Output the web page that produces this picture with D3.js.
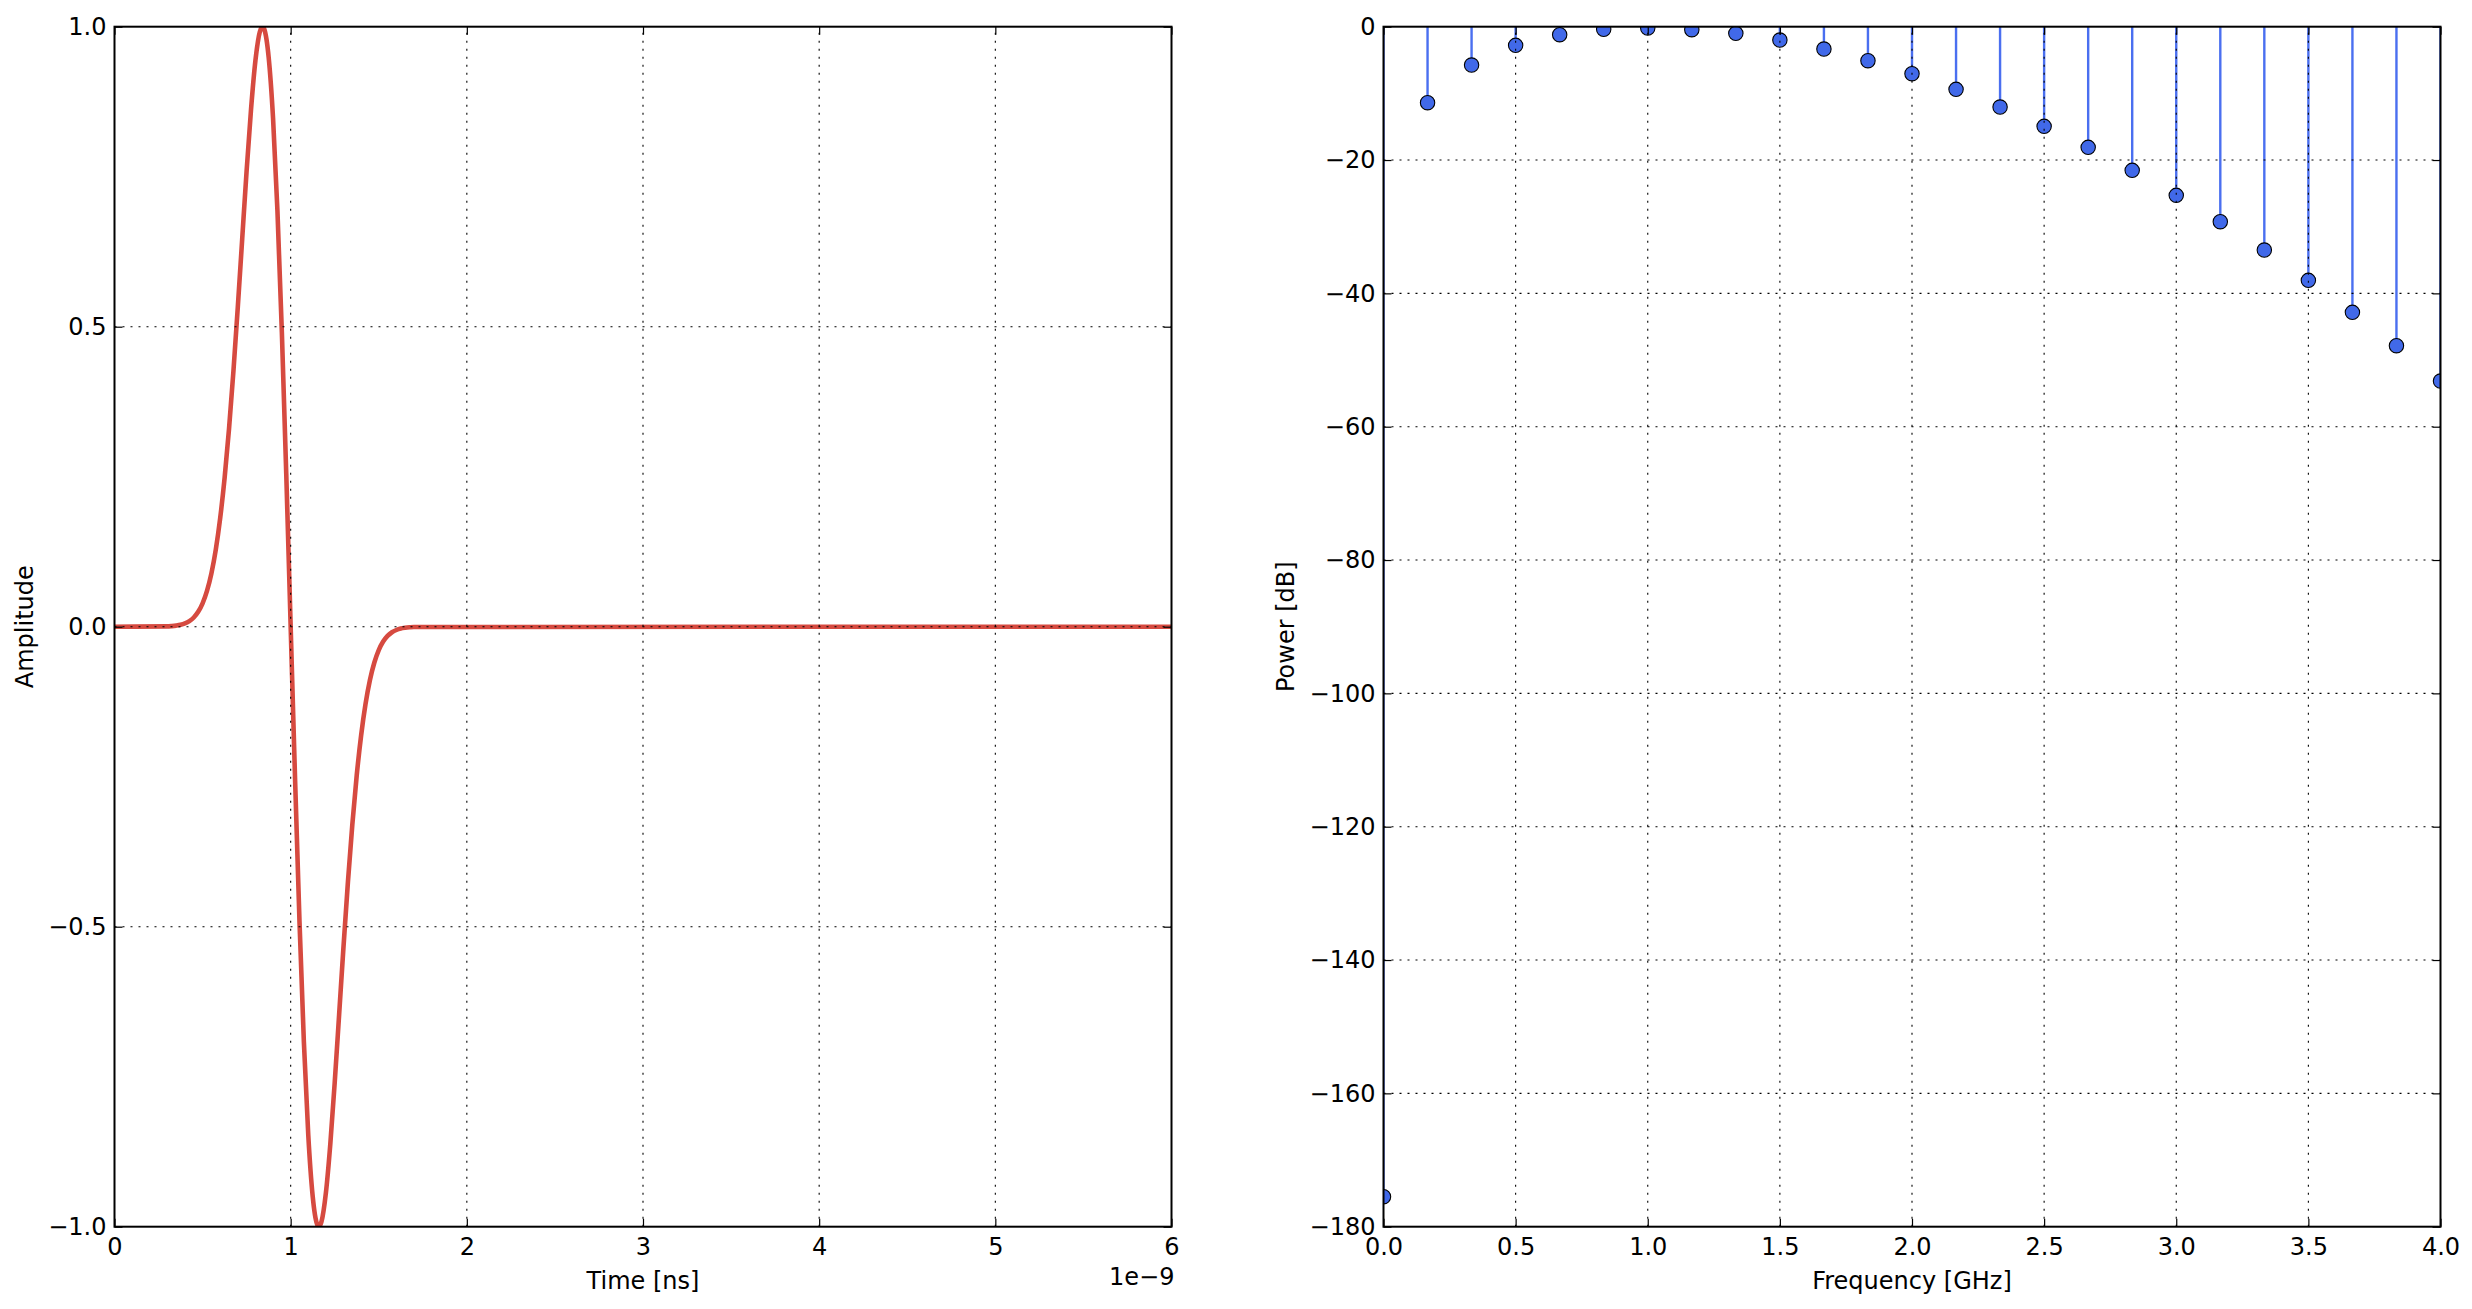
<!DOCTYPE html>
<html><head><meta charset="utf-8">
<script src="https://cdn.jsdelivr.net/npm/d3@7"></script>
<style>body{margin:0;background:#fff}svg{display:block}</style>
</head><body><svg id="c" width="2472" height="1309"></svg>
<script>
// ---- Left panel: pulse in time domain (time in ns, axis shown with 1e-9 offset) ----
const timeNs = [0, 0.300, 0.325, 0.350, 0.375, 0.400, 0.425, 0.450, 0.475, 0.500, 0.525, 0.550, 0.575, 0.600, 0.625, 0.650, 0.675, 0.700, 0.725, 0.750, 0.775, 0.800, 0.825, 0.840, 0.850, 0.875, 0.900, 0.925, 0.950, 0.975, 1.000, 1.025, 1.050, 1.075, 1.100, 1.125, 1.150, 1.160, 1.175, 1.200, 1.225, 1.250, 1.275, 1.300, 1.325, 1.350, 1.375, 1.400, 1.425, 1.450, 1.475, 1.500, 1.525, 1.550, 1.575, 1.600, 1.625, 1.650, 1.675, 1.700, 6.0];
const amplitude = [0, 0.0005, 0.001, 0.0018, 0.0031, 0.0055, 0.0093, 0.0154, 0.0248, 0.039, 0.0597, 0.0888, 0.1286, 0.1811, 0.2477, 0.3296, 0.4255, 0.533, 0.6469, 0.76, 0.8623, 0.9435, 0.9916, 1.0, 0.996, 0.9493, 0.8476, 0.6924, 0.4907, 0.2545, 0, -0.2545, -0.4907, -0.6924, -0.8476, -0.9493, -0.996, -1.0, -0.9916, -0.9435, -0.8623, -0.76, -0.6469, -0.533, -0.4255, -0.3296, -0.2477, -0.1811, -0.1286, -0.0888, -0.0597, -0.039, -0.0248, -0.0154, -0.0093, -0.0055, -0.0031, -0.0018, -0.001, -0.0005, 0];
const timeTicks = [0, 1, 2, 3, 4, 5, 6];
const ampTicks = [-1.0, -0.5, 0.0, 0.5, 1.0];

// ---- Right panel: spectrum stems ----
const freqGHz = [0, 0.1667, 0.3333, 0.5, 0.6667, 0.8333, 1.0, 1.1667, 1.3333, 1.5, 1.6667, 1.8333, 2.0, 2.1667, 2.3333, 2.5, 2.6667, 2.8333, 3.0, 3.1667, 3.3333, 3.5, 3.6667, 3.8333, 4.0];
const powerDb = [-175.5, -11.4, -5.75, -2.8, -1.2, -0.4, -0.2, -0.45, -1.0, -2.0, -3.35, -5.1, -7.05, -9.4, -12.05, -14.95, -18.1, -21.55, -25.3, -29.25, -33.5, -38.05, -42.85, -47.85, -53.15];
const freqTicks = [0, 0.5, 1.0, 1.5, 2.0, 2.5, 3.0, 3.5, 4.0];
const powerTicks = [-180, -160, -140, -120, -100, -80, -60, -40, -20, 0];

const FONT = "'DejaVu Sans', sans-serif";
const FS = 24;
const svg = d3.select('#c');
svg.append('rect').attr('width', 2472).attr('height', 1309).attr('fill', '#fff');

const TOP = 26.7, H = 1200, W = 1057;
const panels = [{x0: 114.5, id: 'L'}, {x0: 1383.5, id: 'R'}];

function setupPanel(p, xDom, yDom) {
  const g = svg.append('g').attr('transform', `translate(${p.x0},${TOP})`);
  const x = d3.scaleLinear().domain(xDom).range([0, W]);
  const y = d3.scaleLinear().domain(yDom).range([H, 0]);
  svg.append('clipPath').attr('id', 'clip' + p.id)
    .append('rect').attr('width', W).attr('height', H);
  return {g, x, y};
}

function finishPanel(P, xTicks, yTicks, xFmt, yFmt) {
  const {g, x, y} = P;
  // grid on top of data (classic style)
  const grid = g.append('g');
  grid.selectAll('.gx').data(xTicks.filter(t => t !== x.domain()[0] && t !== x.domain()[1]))
    .join('line').attr('x1', d => x(d)).attr('x2', d => x(d)).attr('y1', H).attr('y2', 0)
    .attr('stroke', '#000').attr('stroke-width', 1.1).attr('stroke-dasharray', '2,6');
  grid.selectAll('.gy').data(yTicks.filter(t => t !== y.domain()[0] && t !== y.domain()[1]))
    .join('line').attr('y1', d => y(d)).attr('y2', d => y(d)).attr('x1', 0).attr('x2', W)
    .attr('stroke', '#000').attr('stroke-width', 1.1).attr('stroke-dasharray', '2,6');

  const axB = g.append('g').attr('transform', `translate(0,${H})`)
    .call(d3.axisBottom(x).tickValues(xTicks).tickFormat(xFmt).tickSize(-8).tickSizeOuter(0).tickPadding(11));
  const axT = g.append('g')
    .call(d3.axisTop(x).tickValues(xTicks).tickFormat('').tickSize(-8).tickSizeOuter(0));
  const axL = g.append('g')
    .call(d3.axisLeft(y).tickValues(yTicks).tickFormat(yFmt).tickSize(-8).tickSizeOuter(0).tickPadding(8));
  const axR = g.append('g').attr('transform', `translate(${W},0)`)
    .call(d3.axisRight(y).tickValues(yTicks).tickFormat('').tickSize(-8).tickSizeOuter(0));
  [axB, axT, axL, axR].forEach(a => {
    a.select('.domain').remove();
    a.selectAll('line').attr('stroke', '#000').attr('stroke-width', 1.2);
    a.selectAll('text').attr('font-family', FONT).attr('font-size', FS).attr('fill', '#000');
  });
  g.append('rect').attr('width', W).attr('height', H)
    .attr('fill', 'none').attr('stroke', '#000').attr('stroke-width', 2);
}

// Left panel
const PL = setupPanel(panels[0], [0, 6], [-1, 1]);
const pts = timeNs.map((t, i) => [t, amplitude[i]]);
PL.g.append('path').datum(pts)
  .attr('clip-path', 'url(#clipL)')
  .attr('d', d3.line().x(d => PL.x(d[0])).y(d => PL.y(d[1])).curve(d3.curveMonotoneX))
  .attr('fill', 'none').attr('stroke', '#d64a40').attr('stroke-width', 4.6).attr('stroke-linejoin', 'round');
finishPanel(PL, timeTicks, ampTicks, d3.format('d'), d3.format('.1f'));
PL.g.append('text').attr('x', W / 2).attr('y', H + 62).attr('text-anchor', 'middle')
  .attr('font-family', FONT).attr('font-size', FS).text('Time [ns]');
PL.g.append('text').attr('x', W + 3).attr('y', H + 58).attr('text-anchor', 'end')
  .attr('font-family', FONT).attr('font-size', FS).text('1e\u22129');
PL.g.append('text').attr('transform', `translate(${33 - panels[0].x0},${H / 2}) rotate(-90)`)
  .attr('text-anchor', 'middle').attr('font-family', FONT).attr('font-size', FS).text('Amplitude');

// Right panel
const PR = setupPanel(panels[1], [0, 4], [-180, 0]);
const stems = freqGHz.map((f, i) => ({f, p: powerDb[i]}));
const sg = PR.g.append('g').attr('clip-path', 'url(#clipR)');
sg.selectAll('line.stem').data(stems).join('line')
  .attr('x1', d => PR.x(d.f)).attr('x2', d => PR.x(d.f))
  .attr('y1', PR.y(0)).attr('y2', d => PR.y(d.p))
  .attr('stroke', '#4a6ff0').attr('stroke-width', 2.4);
sg.selectAll('circle').data(stems).join('circle')
  .attr('cx', d => PR.x(d.f)).attr('cy', d => PR.y(d.p)).attr('r', 7.2)
  .attr('fill', '#4169e9').attr('stroke', '#000').attr('stroke-width', 1.1);
finishPanel(PR, freqTicks, powerTicks, d3.format('.1f'), d3.format('d'));
PR.g.append('text').attr('x', W / 2).attr('y', H + 62).attr('text-anchor', 'middle')
  .attr('font-family', FONT).attr('font-size', FS).text('Frequency [GHz]');
PR.g.append('text').attr('transform', `translate(${1294 - panels[1].x0},${H / 2}) rotate(-90)`)
  .attr('text-anchor', 'middle').attr('font-family', FONT).attr('font-size', FS).text('Power [dB]');
</script>
</body></html>
